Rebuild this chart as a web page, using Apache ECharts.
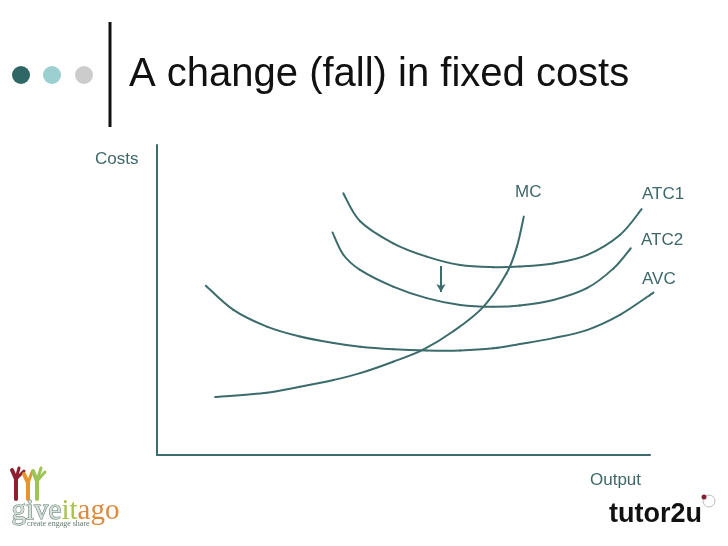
<!DOCTYPE html>
<html>
<head>
<meta charset="utf-8">
<script src="https://cdn.jsdelivr.net/npm/echarts@6.0.0/dist/echarts.min.js"></script>
<style>
  html, body { margin: 0; padding: 0; background: #fff; }
  #main { width: 728px; height: 546px; }
</style>
</head>
<body>
<div id="main"></div>
<script>
// 曲线数据 (output, cost)
var mcX   = [11.8, 22.3, 29.0, 35.8, 41.2, 47.9, 54.0, 60.1, 66.2, 70.9, 73.0, 74.4];
var mcY   = [18.7, 20.1, 22.0, 24.2, 26.4, 30.1, 34.0, 39.9, 47.8, 58.6, 67.2, 76.9];

var atc1X = [37.8, 41.2, 47.9, 54.7, 61.5, 68.2, 73.6, 80.4, 87.2, 93.9, 98.3];
var atc1Y = [84.4, 75.4, 68.3, 64.0, 61.3, 60.6, 60.8, 61.8, 64.5, 71.0, 79.3];

var atc2X = [35.6, 37.8, 41.2, 47.9, 54.7, 61.5, 68.2, 73.6, 80.4, 87.2, 92.6, 96.1];
var atc2Y = [71.8, 64.6, 59.7, 54.3, 50.6, 48.4, 47.8, 48.2, 50.0, 53.8, 60.2, 66.7];

var avcX  = [9.9, 15.5, 22.3, 29.0, 35.8, 41.2, 47.9, 54.7, 61.5, 68.2, 73.6, 80.4, 87.2, 93.9, 100.7];
var avcY  = [54.6, 46.8, 41.4, 38.2, 36.1, 34.9, 34.1, 33.7, 33.7, 34.4, 35.8, 37.7, 40.3, 45.2, 52.4];

// 箭头: ATC1 -> ATC2
var arrowX = 57.6;
var arrowFrom = 61.0;
var arrowTo = 52.6;

var lineColor = '#3b6b6b';
var textColor = '#3e6868';

function pairs(xs, ys) {
  var out = [];
  for (var i = 0; i < xs.length; i++) out.push([xs[i], ys[i]]);
  return out;
}

// 用 custom 系列画平滑曲线 (Catmull-Rom -> 三次贝塞尔)
function curve(name, xs, ys) {
  var data = pairs(xs, ys);
  return {
    name: name,
    type: 'custom',
    silent: true,
    data: data,
    encode: { x: 0, y: 1 },
    renderItem: function (params, api) {
      var i = params.dataIndex;
      var n = data.length;
      if (i >= n - 1) return null;
      var p0 = api.coord(data[Math.max(i - 1, 0)]);
      var p1 = api.coord(data[i]);
      var p2 = api.coord(data[i + 1]);
      var p3 = api.coord(data[Math.min(i + 2, n - 1)]);
      return {
        type: 'bezierCurve',
        shape: {
          x1: p1[0], y1: p1[1],
          x2: p2[0], y2: p2[1],
          cpx1: p1[0] + (p2[0] - p0[0]) / 6,
          cpy1: p1[1] + (p2[1] - p0[1]) / 6,
          cpx2: p2[0] - (p3[0] - p1[0]) / 6,
          cpy2: p2[1] - (p3[1] - p1[1]) / 6
        },
        style: { stroke: lineColor, lineWidth: 2, fill: null, lineCap: 'round' }
      };
    }
  };
}

var chart = echarts.init(document.getElementById('main'));

var series = [
  curve('MC', mcX, mcY),
  curve('ATC1', atc1X, atc1Y),
  curve('ATC2', atc2X, atc2Y),
  curve('AVC', avcX, avcY),
  {
    name: 'shift',
    type: 'line',
    data: [],
    markLine: {
      silent: true,
      symbolSize: [7, 8],
      lineStyle: { color: lineColor, width: 2, type: 'solid' },
      label: { show: false },
      data: [[
        { coord: [arrowX, arrowFrom], symbol: 'none' },
        { coord: [arrowX, arrowTo], symbol: 'arrow' }
      ]]
    }
  }
];

var font = '"Liberation Sans", Arial, sans-serif';
var serif = '"Liberation Serif", "Times New Roman", serif';

function label(text, x, y, size, color, family) {
  return {
    type: 'text', left: x, top: y,
    style: { text: text, fill: color || textColor, font: size + 'px ' + (family || font) }
  };
}

function stroke(points, color, w) {
  return { type: 'polyline', shape: { points: points }, style: { stroke: color, lineWidth: w, fill: null, lineCap: 'round' } };
}

var option = {
  animation: false,
  grid: { left: 157, top: 145, width: 493, height: 310 },
  xAxis: {
    type: 'value', min: 0, max: 100,
    axisLine: { lineStyle: { color: lineColor, width: 2 } },
    axisTick: { show: false },
    axisLabel: { show: false },
    splitLine: { show: false }
  },
  yAxis: {
    type: 'value', min: 0, max: 100,
    axisLine: { show: true, lineStyle: { color: lineColor, width: 2 } },
    axisTick: { show: false },
    axisLabel: { show: false },
    splitLine: { show: false }
  },
  series: series,
  graphic: [
    // 标题区
    { type: 'circle', shape: { cx: 21, cy: 75, r: 9 }, style: { fill: '#2f6666' } },
    { type: 'circle', shape: { cx: 52, cy: 75, r: 9 }, style: { fill: '#9ccfd0' } },
    { type: 'circle', shape: { cx: 84, cy: 75, r: 9 }, style: { fill: '#cccccc' } },
    { type: 'line', shape: { x1: 110, y1: 22, x2: 110, y2: 127 }, style: { stroke: '#111', lineWidth: 3 } },
    label('A change (fall) in fixed costs', 129, 55, 40, '#111'),

    // 坐标轴名称
    label('Costs', 95, 151, 17),
    label('Output', 590, 472, 17),

    // 曲线标签
    label('MC', 515, 184, 17),
    label('ATC1', 642, 186, 17),
    label('ATC2', 641, 232, 17),
    label('AVC', 642, 271, 17),

    // giveitago logo
    stroke([[16, 499], [16, 479], [12, 470]], '#8e1f2e', 4),
    stroke([[16, 479], [19, 468]], '#8e1f2e', 3),
    stroke([[16, 479], [24, 471]], '#8e1f2e', 3),
    stroke([[28, 499], [28, 483], [24, 474]], '#e5952e', 4),
    stroke([[28, 483], [32, 472]], '#e5952e', 3),
    stroke([[37, 499], [37, 481], [33, 471]], '#9cc456', 4),
    stroke([[37, 481], [41, 468]], '#9cc456', 3),
    stroke([[37, 481], [45, 472]], '#9cc456', 3),
    {
      type: 'text', left: 11, top: 496,
      style: {
        rich: {
          g: { fill: '#d5e0da', stroke: '#5a776b', lineWidth: 1, font: '29px ' + serif },
          i: { fill: '#a9c24a', font: '29px ' + serif },
          o: { fill: '#dd8a3c', font: '29px ' + serif }
        },
        text: '{g|give}{i|it}{o|ago}',
        font: '29px ' + serif
      }
    },
    label('create engage share', 27, 520, 8, '#5f7a6c', serif),

    // tutor2u logo
    {
      type: 'text', left: 609, top: 501,
      style: { text: 'tutor2u', fill: '#111', font: 'bold 27px ' + font }
    },
    { type: 'circle', shape: { cx: 709, cy: 501, r: 6 }, style: { fill: '#fff', stroke: '#bbb', lineWidth: 1 } },
    { type: 'circle', shape: { cx: 704, cy: 497, r: 2.5 }, style: { fill: '#8a1f2e' } }
  ]
};

chart.setOption(option);
</script>
</body>
</html>
